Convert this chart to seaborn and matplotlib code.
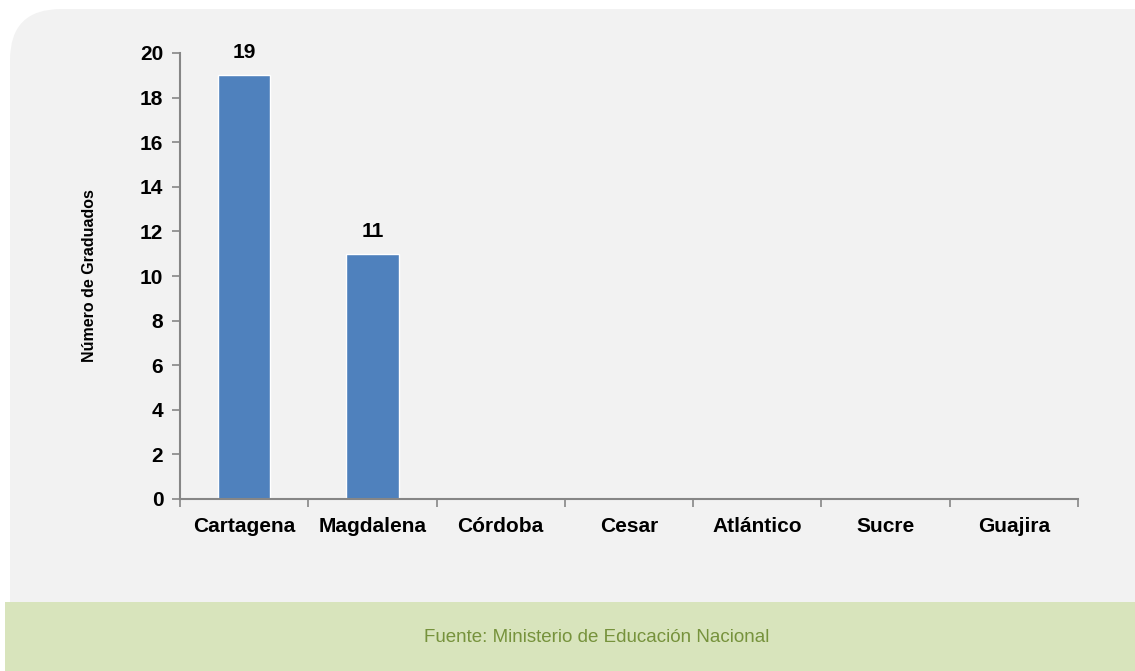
import matplotlib

matplotlib.use("Agg")
import matplotlib.pyplot as plt
import pandas as pd
import seaborn as sns
from matplotlib.patches import FancyBboxPatch, Rectangle

categories = ["Cartagena", "Magdalena", "Córdoba", "Cesar", "Atlántico", "Sucre", "Guajira"]
graduados = [19, 11, 0, 0, 0, 0, 0]
y_ticks = [0, 2, 4, 6, 8, 10, 12, 14, 16, 18, 20]
y_label = "Número de Graduados"
source = "Fuente: Ministerio de Educación Nacional"

W, H = 1135, 671
BAR = "#4f81bd"
AXIS = "#868686"
FONT = ["Liberation Sans Narrow", "Liberation Sans", "DejaVu Sans"]

sns.set_theme(style="white")
plt.rcParams["font.family"] = FONT

df = pd.DataFrame({"region": categories, "n": graduados})

fig = plt.figure(figsize=(W / 100, H / 100), dpi=100)
fig.patch.set_facecolor("white")

# background panel with rounded top corners + green footer band
panel = FancyBboxPatch((10 / W, -100 / H), (W + 60) / W, (H - 9 + 100) / H,
                       boxstyle="round,pad=0,rounding_size=0.045",
                       transform=fig.transFigure, facecolor="#f2f2f2",
                       edgecolor="none", zorder=-2, mutation_aspect=W / H)
fig.patches.append(panel)
band = Rectangle((5 / W, 0), (W - 5) / W, (H - 602) / H, transform=fig.transFigure,
                 facecolor="#d8e4bc", edgecolor="none", zorder=-1)
fig.patches.append(band)
fig.text(597 / W, (H - 637) / H, source, ha="center", va="center", fontsize=13.5,
         color="#76923c")

ax = fig.add_axes([180 / W, (H - 499) / H, (1078 - 180) / W, (499 - 53) / H])
ax.set_facecolor("none")
sns.barplot(data=df, x="region", y="n", color=BAR, width=0.41, saturation=1, ax=ax)

for p, v in zip(ax.patches, graduados):
    if v > 0:
        ax.text(p.get_x() + p.get_width() / 2, v + 1.0, str(v), ha="center",
                va="center", fontsize=15, fontweight="bold", color="black")

ax.set_ylim(0, 20)
ax.set_xlim(-0.5, len(categories) - 0.5)
ax.set_yticks(y_ticks)
ax.set_yticklabels([str(t) for t in y_ticks], fontsize=15, fontweight="bold")
ax.set_xticks(range(len(categories)))
ax.set_xticklabels(categories, fontsize=15, fontweight="bold")
ax.tick_params(axis="x", length=0, pad=13, labelcolor="black")
ax.tick_params(axis="y", length=6, width=1.2, color=AXIS, labelcolor="black", pad=6, left=True)
# category boundary ticks on x axis
ax.set_xticks([i - 0.5 for i in range(len(categories) + 1)], minor=True)
ax.tick_params(axis="x", which="minor", length=6, width=1.2, color=AXIS, bottom=True)

for s in ["top", "right"]:
    ax.spines[s].set_visible(False)
for s in ["left", "bottom"]:
    ax.spines[s].set_color(AXIS)
    ax.spines[s].set_linewidth(1.5)

ax.set_xlabel("")
ax.set_ylabel(y_label, fontsize=11.5, fontweight="bold", labelpad=31, color="black")

fig.savefig("out.png", dpi=100)
plt.close(fig)
